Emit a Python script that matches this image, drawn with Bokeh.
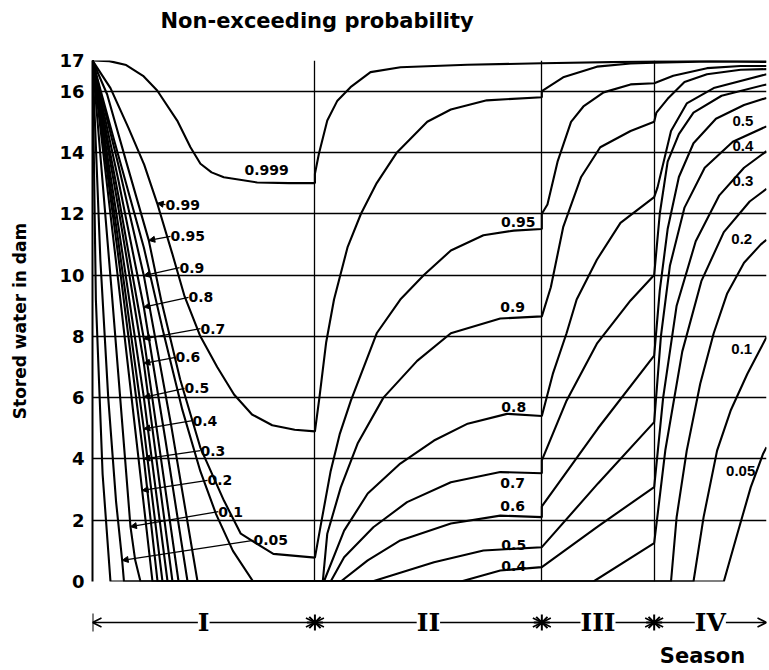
from bokeh.plotting import figure
from bokeh.models import Range1d, FixedTicker, Arrow, NormalHead, OpenHead, Label, ColumnDataSource, Grid
from bokeh.layouts import column
from bokeh.embed import file_html
from bokeh.resources import INLINE
from bokeh.core.properties import value

# ---------------- data ----------------
season_bounds = [0.0, 1.98, 4.0, 5.0, 6.0]
season_names = ["I", "II", "III", "IV"]
y_ticks = [0, 2, 4, 6, 8, 10, 12, 14, 16, 17]

p999_x = [0, 0.15, 0.3, 0.45, 0.576, 0.754, 0.872, 0.961, 1.06, 1.169, 1.466, 1.75, 1.98,
          1.98, 2.015, 2.09, 2.18, 2.297, 2.475, 2.742, 3.336, 4.0, 5.0, 6.0]
p999_y = [17, 16.98, 16.85, 16.5, 16.02, 15.04, 14.17, 13.63, 13.35, 13.19, 13.02, 13.0, 13.0,
          13.3, 13.95, 15.04, 15.69, 16.13, 16.62, 16.78, 16.86, 16.91, 16.97, 17.0]

p99_x = [0, 0.16, 0.32, 0.46, 0.576, 0.71, 0.82, 0.96, 1.11, 1.26, 1.42, 1.6, 1.8, 1.98,
         2.02, 2.08, 2.15, 2.27, 2.39, 2.53, 2.71, 2.98, 3.19, 3.51, 4.0,
         4.0, 4.19, 4.49, 4.79, 5.0, 5.5, 6.0]
p99_y = [17, 16.1, 14.8, 13.6, 12.34, 10.7, 9.3, 8.0, 7.0, 6.1, 5.45, 5.1, 4.95, 4.9,
         6.0, 7.8, 9.2, 10.9, 12.0, 13.0, 14.0, 15.0, 15.4, 15.7, 15.8,
         16.0, 16.45, 16.8, 16.9, 16.93, 16.97, 16.95]

p95_x = [0, 0.13, 0.3, 0.501, 0.61, 0.78, 0.96, 1.17, 1.32, 1.61, 1.98,
         2.03, 2.12, 2.2, 2.3, 2.53, 2.74, 2.95, 3.19, 3.48, 3.75, 4.0,
         4.0, 4.05, 4.14, 4.26, 4.37, 4.55, 4.79, 5.0, 5.17, 5.47, 5.77, 6.0]
p95_y = [17, 15.9, 13.7, 11.13, 9.2, 6.6, 4.37, 2.64, 1.56, 0.9, 0.78,
         1.8, 3.6, 4.8, 5.9, 8.1, 9.2, 10.0, 10.8, 11.3, 11.45, 11.5,
         12.0, 12.3, 13.7, 15.0, 15.5, 15.96, 16.22, 16.26, 16.5, 16.75, 16.82, 16.82]

# unlabeled season-I curve reaching zero late in season I
pa_x = [0, 0.2, 0.457, 0.62, 0.8, 0.96, 1.1, 1.25, 1.43, 1.98]
pa_y = [17, 14.3, 10.9, 8.3, 5.6, 3.6, 2.2, 1.0, 0, 0]

p90_x = [0, 0.23, 0.457, 0.7, 0.935, 2.05,
         2.09, 2.21, 2.36, 2.59, 2.89, 3.19, 3.63, 4.0,
         4.08, 4.19, 4.35, 4.52, 4.79, 5.0, 5.02, 5.12, 5.27, 5.47, 5.77, 6.0]
p90_y = [17, 13.6, 9.98, 5.1, 0, 0,
         1.56, 3.07, 4.5, 6.0, 7.2, 8.1, 8.58, 8.65,
         9.6, 11.56, 13.2, 14.17, 14.7, 15.0, 15.3, 15.75, 16.3, 16.55, 16.7, 16.72]

p80_x = [0, 0.23, 0.457, 0.65, 0.846, 2.06, 2.24, 2.45, 2.74, 3.04, 3.34, 3.69, 4.0,
         4.1, 4.22, 4.31, 4.49, 4.7, 5.0, 5.03, 5.15, 5.29, 5.53, 6.0]
p80_y = [17, 13.1, 8.95, 4.6, 0, 0, 1.66, 2.87, 3.85, 4.6, 5.15, 5.47, 5.4,
         6.8, 8.1, 9.2, 10.5, 11.7, 12.54, 12.86, 14.7, 15.6, 16.1, 16.55]

p70_x = [0, 0.23, 0.457, 0.766, 2.12, 2.24, 2.5, 2.8, 3.19, 3.63, 4.0,
         4.0, 4.22, 4.49, 4.79, 5.0, 5.05, 5.12, 5.22, 5.35, 5.6, 6.0]
p70_y = [17, 12.6, 7.92, 0, 0, 0.79, 1.77, 2.59, 3.24, 3.57, 3.53,
         3.95, 5.9, 7.76, 9.17, 10.0, 12.0, 13.7, 14.6, 15.3, 15.85, 16.22]

p60_x = [0, 0.23, 0.457, 0.712, 2.21, 2.45, 2.74, 3.19, 3.63, 4.0,
         4.0, 4.5, 5.0, 5.05, 5.12, 5.22, 5.35, 5.55, 5.8, 6.0]
p60_y = [17, 12.2, 7.12, 0, 0, 0.69, 1.34, 1.89, 2.15, 2.1,
         2.45, 5.0, 7.37, 9.5, 11.5, 13.2, 14.3, 15.1, 15.55, 15.78]

p50_x = [0, 0.23, 0.457, 0.668, 2.49, 3.04, 3.48, 4.0, 4.5, 5.0, 5.06, 5.14, 5.27, 5.45, 5.7, 6.0]
p50_y = [17, 11.6, 6.01, 0, 0, 0.63, 1.01, 1.12, 3.2, 5.2, 8.0, 10.3, 12.2, 13.5, 14.35, 14.85]

p40_x = [0, 0.23, 0.457, 0.623, 3.28, 3.63, 4.0, 4.5, 5.0, 5.08, 5.2, 5.37, 5.58, 5.8, 6.0]
p40_y = [17, 11.1, 4.98, 0, 0, 0.36, 0.47, 1.8, 3.08, 6.0, 9.0, 11.1, 12.6, 13.5, 14.04]

p30_x = [0, 0.23, 0.457, 0.579, 4.46, 5.0, 5.1, 5.25, 5.42, 5.62, 5.85, 6.0]
p30_y = [17, 10.6, 4.0, 0, 0, 1.25, 4.3, 7.5, 9.8, 11.4, 12.4, 12.81]

p20_x = [0, 0.22, 0.442, 0.534, 5.15, 5.2, 5.29, 5.41, 5.53, 5.65, 5.8, 5.95, 6.0]
p20_y = [17, 10.1, 2.97, 0, 0, 2.1, 4.27, 6.45, 8.1, 9.4, 10.4, 11.0, 11.15]

p10_x = [0, 0.17, 0.29, 0.338, 0.38, 0.427, 5.35, 5.44, 5.56, 5.68, 5.83, 6.0]
p10_y = [17, 9.5, 4.0, 1.79, 0.7, 0, 0, 2.1, 4.27, 5.57, 6.78, 7.97]

p05_x = [0, 0.07, 0.14, 0.21, 0.264, 0.28, 5.62, 5.74, 5.86, 5.97, 6.0]
p05_y = [17, 10.5, 6.0, 2.6, 0.69, 0, 0, 1.55, 3.08, 4.17, 4.38]

# unlabeled steep curve next to the axis
pb_x = [0, 0.03, 0.09, 0.16, 1.98]
pb_y = [17, 9.2, 3.5, 0, 0]

# season I labels with leader arrows
lead_text = ["0.99", "0.95", "0.9", "0.8", "0.7", "0.6", "0.5", "0.4", "0.3", "0.2", "0.1", "0.05"]
lead_tip_x = [0.576, 0.501, 0.457, 0.457, 0.457, 0.457, 0.457, 0.457, 0.457, 0.442, 0.338, 0.264]
lead_tip_y = [12.34, 11.13, 9.98, 8.95, 7.92, 7.12, 6.01, 4.98, 4.0, 2.97, 1.79, 0.69]
lead_tail_x = [0.65, 0.694, 0.775, 0.855, 0.961, 0.739, 0.819, 0.89, 0.961, 1.024, 1.12, 1.433]
lead_tail_y = [12.3, 11.26, 10.24, 9.27, 8.25, 7.31, 6.30, 5.25, 4.27, 3.30, 2.28, 1.34]

# other curve labels
lab2_text = ["0.999", "0.95", "0.9", "0.8", "0.7", "0.6", "0.5", "0.4"]
lab2_x = [1.55, 3.79, 3.74, 3.75, 3.74, 3.74, 3.75, 3.75]
lab2_y = [13.44, 11.72, 8.95, 5.71, 3.21, 2.45, 1.2, 0.5]

lab4_text = ["0.5", "0.4", "0.3", "0.2", "0.1", "0.05"]
lab4_x = [5.79, 5.79, 5.79, 5.78, 5.78, 5.77]
lab4_y = [15.04, 14.22, 13.08, 11.19, 7.6, 3.62]

title_text = "Non-exceeding probability"

curves = [(p999_x, p999_y), (p99_x, p99_y), (p95_x, p95_y), (pa_x, pa_y), (p90_x, p90_y),
          (p80_x, p80_y), (p70_x, p70_y), (p60_x, p60_y), (p50_x, p50_y),
          (p40_x, p40_y), (p30_x, p30_y), (p20_x, p20_y), (p10_x, p10_y), (p05_x, p05_y),
          (pb_x, pb_y)]

FONT = value("DejaVu Sans")
W = 768

# ---------------- title strip ----------------
title_h = 50
t = figure(width=W, height=title_h, x_range=Range1d(season_bounds[0], season_bounds[-1]),
           y_range=Range1d(0, title_h), output_backend="svg", toolbar_location=None,
           x_axis_type=None, y_axis_type=None, min_border_left=92, min_border_right=2,
           min_border_top=0, min_border_bottom=0)
t.outline_line_color = None
t.grid.visible = False
t.text(x=[0.605], y=[30], text=[title_text], text_font=FONT, text_font_style="bold",
       text_font_size="21px", text_align="left", text_baseline="middle", text_color="black")

# ---------------- main figure ----------------
p = figure(width=W, height=543, x_range=t.x_range, y_range=Range1d(0, 17),
           output_backend="svg", toolbar_location=None, x_axis_type=None,
           min_border_left=92, min_border_right=2, min_border_top=10, min_border_bottom=12)
p.outline_line_color = None
p.background_fill_color = "white"

p.yaxis.ticker = FixedTicker(ticks=y_ticks)
p.yaxis.major_tick_in = 0
p.yaxis.major_tick_out = 0
p.yaxis.minor_tick_in = 0
p.yaxis.minor_tick_out = 0
p.yaxis.axis_line_color = "black"
p.yaxis.axis_line_width = 2
p.yaxis.major_label_text_font = "DejaVu Sans"
p.yaxis.major_label_text_font_style = "bold"
p.yaxis.major_label_text_font_size = "18px"
p.yaxis.major_label_text_color = "black"
p.yaxis.major_label_standoff = 8
p.yaxis.axis_label = "Stored water in dam"
p.yaxis.axis_label_text_font = "DejaVu Sans"
p.yaxis.axis_label_text_font_style = "bold"
p.yaxis.axis_label_text_font_size = "17px"
p.yaxis.axis_label_text_color = "black"
p.yaxis.axis_label_standoff = 26

p.ygrid.ticker = FixedTicker(ticks=y_ticks)
p.ygrid.grid_line_color = "black"
p.ygrid.grid_line_width = 1.3
p.add_layout(Grid(dimension=0, ticker=FixedTicker(ticks=season_bounds[1:-1]),
                  grid_line_color="black", grid_line_width=1.3))

for cx, cy in curves:
    p.line(cx, cy, line_color="black", line_width=2.1)

lead_src = ColumnDataSource(dict(x0=lead_tail_x, y0=lead_tail_y, x1=lead_tip_x, y1=lead_tip_y))
p.add_layout(Arrow(end=NormalHead(size=6, fill_color="black", line_color="black"),
                   source=lead_src, x_start="x0", y_start="y0", x_end="x1", y_end="y1",
                   line_color="black", line_width=1.3))
p.text(x=lead_tail_x, y=lead_tail_y, text=lead_text, text_font=FONT, text_font_style="bold",
       text_font_size="14px", text_align="left", text_baseline="middle", text_color="black")
p.text(x=lab2_x, y=lab2_y, text=lab2_text, text_font=FONT, text_font_style="bold",
       text_font_size="14px", text_align="center", text_baseline="middle", text_color="black")
p.text(x=lab4_x, y=lab4_y, text=lab4_text, text_font=value("Liberation Sans"), text_font_style="bold",
       text_font_size="15px", text_align="center", text_baseline="middle", text_color="black")

# ---------------- season strip ----------------
strip_h = 75
s = figure(width=W, height=strip_h, x_range=t.x_range, y_range=Range1d(0, strip_h),
           output_backend="svg", toolbar_location=None, x_axis_type=None, y_axis_type=None,
           min_border_left=92, min_border_right=2, min_border_top=0, min_border_bottom=0)
s.outline_line_color = None
s.grid.visible = False

arrow_y = 46
for i, name in enumerate(season_names):
    b0, b1 = season_bounds[i], season_bounds[i + 1]
    mid = (b0 + b1) / 2
    for end_x in (b0, b1):
        s.add_layout(Arrow(end=OpenHead(size=9, line_width=1.6, line_color="black"),
                           x_start=mid, y_start=arrow_y, x_end=end_x, y_end=arrow_y,
                           line_color="black", line_width=1.6))
    s.add_layout(Label(x=mid, y=arrow_y, text=name, text_font="DejaVu Serif",
                       text_font_style="bold", text_font_size="25px", text_align="center",
                       text_baseline="middle", background_fill_color="white", text_color="black"))

s.segment(x0=[season_bounds[0]], y0=[arrow_y - 9], x1=[season_bounds[0]], y1=[arrow_y + 9],
          line_color="black", line_width=2)
s.scatter(x=season_bounds[1:-1], y=[arrow_y] * 3, marker="asterisk", size=16,
          line_color="black", line_width=2)
s.text(x=[5.43], y=[13], text=["Season"], text_font=FONT, text_font_style="bold",
       text_font_size="21px", text_align="center", text_baseline="middle", text_color="black")

layout = column(t, p, s, spacing=0)
open("out.html", "w").write(file_html(layout, INLINE))
